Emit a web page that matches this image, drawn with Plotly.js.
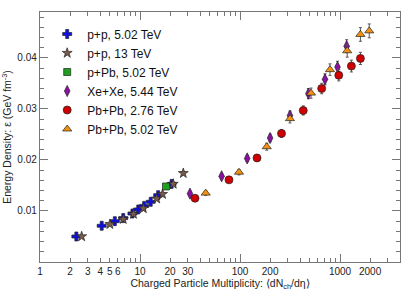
<!DOCTYPE html>
<html><head><meta charset="utf-8">
<script src="https://cdn.plot.ly/plotly-3.0.1.min.js"></script>
<style>html,body{margin:0;padding:0;background:#fff}#c{width:415px;height:300px}</style>
</head><body><div id="c"></div>
<script>
// p+p 5.02 TeV
const pp502_x = [2.31, 4.14, 5.6, 6.8, 8.4, 9.6, 11.0, 12.8, 15.2, 20.7];
const pp502_y = [0.0050, 0.0071, 0.0080, 0.0086, 0.0095, 0.0103, 0.0110, 0.0118, 0.0131, 0.0153];
// p+p 13 TeV
const pp13_x = [2.61, 5.0, 6.8, 8.6, 10.8, 14.7, 16.8, 21.5, 27.1];
const pp13_y = [0.0050, 0.0074, 0.0084, 0.0094, 0.0105, 0.0124, 0.0133, 0.0153, 0.0174];
// p+Pb 5.02 TeV
const ppb_x = [18.2];
const ppb_y = [0.0148];
// Xe+Xe 5.44 TeV
const xexe_x = [31.6, 65.5, 118, 200, 316, 483, 708, 944, 1166];
const xexe_y = [0.0134, 0.0168, 0.0203, 0.0243, 0.0287, 0.0330, 0.0358, 0.0382, 0.0423];
// Pb+Pb 2.76 TeV
const pb276_x = [35.5, 77.6, 148, 260, 429, 656, 972, 1300, 1600];
const pb276_y = [0.0125, 0.0161, 0.0204, 0.0252, 0.0297, 0.0340, 0.0366, 0.0384, 0.0399];
// Pb+Pb 5.02 TeV
const pb502_x = [45.4, 97.7, 185, 316, 513, 794, 1180, 1600, 1960];
const pb502_y = [0.0135, 0.0176, 0.0226, 0.0281, 0.0331, 0.0377, 0.0414, 0.0446, 0.0453];

const names = ["p+p, 5.02 TeV", "p+p, 13 TeV", "p+Pb, 5.02 TeV", "Xe+Xe, 5.44 TeV", "Pb+Pb, 2.76 TeV", "Pb+Pb, 5.02 TeV"];
const xTickVals = [1,2,3,4,5,6,10,20,30,100,200,1000,2000];
const xTickText = ["1","2","3","4","5","6","10","20","30","100","200","1000","2000"];
const xMinorVals = [7,8,9,40,50,60,70,80,90,300,400,500,600,700,800,900,3000];
const decades = [1,10,100,1000];
const yTickVals = [0.01,0.02,0.03,0.04];
const yTickText = ['0.01','0.02','0.03','0.04'];

function tr(x, y, name, symbol, color, size, errPct){
  return {x:x, y:y, name:name, type:'scatter', mode:'markers',
    marker:{symbol:symbol, color:color, size:size, line:{color:'#222', width:0.7}},
    error_y:{type:'percent', value:errPct, color:'#555', thickness:1, width:1.5}};
}
const data = [
  tr(pp502_x, pp502_y, names[0], 'cross', '#1010e0', 7.5, 2),
  tr(pp13_x, pp13_y, names[1], 'star', '#7a5a48', 7.5, 2),
  tr(ppb_x, ppb_y, names[2], 'square', '#20a020', 7, 2),
  tr(xexe_x, xexe_y, names[3], 'diamond-tall', '#8a12a0', 8, 3),
  tr(pb276_x, pb276_y, names[4], 'circle', '#d00000', 8, 3),
  tr(pb502_x, pb502_y, names[5], 'triangle-up', '#f39010', 8, 3),
  {x:[], y:[], xaxis:'x2', type:'scatter', showlegend:false, hoverinfo:'skip'}
];
const font = {family:'"Liberation Sans", Arial, sans-serif', color:'#222'};
const layout = {
  width:415, height:300, margin:{l:40, r:15, t:12, b:38},
  paper_bgcolor:'#fff', plot_bgcolor:'#fff', font:font, showlegend:true,
  xaxis:{type:'log', range:[0, 3.6], tickmode:'array', tickvals:xTickVals, ticktext:xTickText, tickangle:0,
    ticks:'inside', ticklen:4, tickcolor:'#777', showline:true, linecolor:'#777', linewidth:1.2, mirror:'ticks',
    minor:{tickmode:'array', tickvals:xMinorVals, ticks:'inside', ticklen:4, tickcolor:'#777'},
    showgrid:false, zeroline:false, tickfont:{size:10, color:'#222'}, automargin:false,
    title:{text:'Charged Particle Multiplicity: ⟨dN<sub>ch</sub>/dη⟩', font:{size:10.5, color:'#222'}, standoff:0}},
  xaxis2:{type:'log', range:[0, 3.6], overlaying:'x', anchor:'y', side:'bottom', tickmode:'array', tickvals:decades,
    ticks:'inside', ticklen:8, tickcolor:'#777', showticklabels:false, showline:false, mirror:'ticks', showgrid:false, zeroline:false},
  yaxis:{range:[0, 0.049], tickmode:'array', tickvals:yTickVals, ticktext:yTickText,
    ticks:'inside', ticklen:8, tickcolor:'#777', showline:true, linecolor:'#777', linewidth:1.2, mirror:'ticks',
    minor:{dtick:0.002, ticks:'inside', ticklen:4, tickcolor:'#777'},
    showgrid:false, zeroline:false, tickfont:{size:10, color:'#222'},
    title:{text:'Energy Density: ε (GeV fm<sup>-3</sup>)', font:{size:10.5, color:'#222'}, standoff:4}},
  legend:{x:0.02, y:0.97, xanchor:'left', yanchor:'top', bgcolor:'rgba(0,0,0,0)', font:{size:12, color:'#111'}, tracegroupgap:0}
};
Plotly.newPlot('c', data, layout, {displayModeBar:false, staticPlot:true});
</script></body></html>
